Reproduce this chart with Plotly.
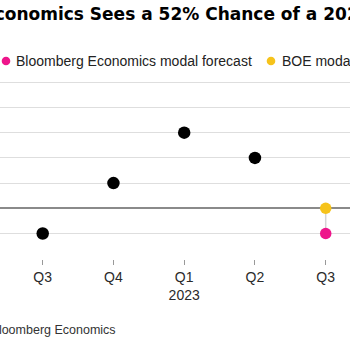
import plotly.graph_objects as go

# ---- data ----
categories = ["2022 Q3", "2022 Q4", "2023 Q1", "2023 Q2", "2023 Q3"]
tick_labels = ["Q3", "Q4", "Q1<br>2023", "Q2", "Q3"]
history_values = [-0.2, 0.2, 0.6, 0.4]          # black dots
bbg_forecast = [-0.2]                            # Bloomberg Economics modal forecast (2023 Q3)
boe_forecast = [0.0]                             # BOE modal forecast (2023 Q3)
grid_values = [-0.2, 0.0, 0.2, 0.4, 0.6, 0.8, 1.0]

title_text = "Bloomberg Economics Sees a 52% Chance of a 2023 Recession"
legend_labels = ["Bloomberg Economics modal forecast", "BOE modal forecast"]
source_text = "Source: Bloomberg Economics"

PINK = "#EE158B"
YELLOW = "#F6C31B"

W, H = 350, 350
T, B = 78, 91
PLOT_H = H - T - B


def px(x):
    return x / W


def py(p):
    return (H - B - p) / PLOT_H


fig = go.Figure()

# connector between the two forecasts
fig.add_trace(go.Scatter(
    x=[categories[-1], categories[-1]], y=[boe_forecast[0], bbg_forecast[0]],
    mode="lines", line=dict(color="#d4d4d4", width=1.5),
    hoverinfo="skip", showlegend=False))

fig.add_trace(go.Scatter(
    x=categories[:len(history_values)], y=history_values, mode="markers",
    marker=dict(color="black", size=12.5), showlegend=False))

fig.add_trace(go.Scatter(
    x=[categories[-1]], y=boe_forecast, mode="markers",
    marker=dict(color=YELLOW, size=11.5), name=legend_labels[1], showlegend=False))

fig.add_trace(go.Scatter(
    x=[categories[-1]], y=bbg_forecast, mode="markers",
    marker=dict(color=PINK, size=11.5), name=legend_labels[0], showlegend=False))

fig.update_xaxes(
    type="category", categoryorder="array", categoryarray=categories,
    range=[-0.6035, 4.3435],
    tickmode="array", tickvals=categories, ticktext=tick_labels,
    ticks="outside", ticklen=5, tickwidth=1, tickcolor="#999999",
    showgrid=False, showline=False, zeroline=False,
    tickfont=dict(family="Liberation Sans, Arial, sans-serif", size=14, color="#2a2a2a"),
)

fig.update_yaxes(
    range=[-0.4024, 1.0341],
    tickmode="array", tickvals=grid_values, showticklabels=False,
    showgrid=True, gridcolor="#dedede", gridwidth=1.4,
    zeroline=True, zerolinecolor="#8a8a8a", zerolinewidth=1.5,
    showline=False, ticks="",
)

annotations = [
    dict(text="<b>" + title_text + "</b>", x=px(-129), y=py(13.5), xanchor="left", yanchor="middle",
         font=dict(family="DejaVu Sans", size=17, color="black"), showarrow=False),
    dict(text=legend_labels[0], x=px(14), y=py(61), xanchor="left", yanchor="middle",
         font=dict(family="Liberation Sans, Arial, sans-serif", size=14, color="#222222"),
         showarrow=False),
    dict(text=legend_labels[1], x=px(279.5), y=py(61), xanchor="left", yanchor="middle",
         font=dict(family="Liberation Sans, Arial, sans-serif", size=14, color="#222222"),
         showarrow=False),
    dict(text=source_text, x=px(118), y=py(330), xanchor="right", yanchor="middle",
         font=dict(family="Liberation Sans, Arial, sans-serif", size=12.5, color="#333333"),
         showarrow=False),
]
for a in annotations:
    a["xref"] = "paper"
    a["yref"] = "paper"

shapes = [
    dict(type="circle", xref="paper", yref="paper", xsizemode="pixel", ysizemode="pixel",
         xanchor=px(6), yanchor=py(61), x0=-4.3, x1=4.3, y0=-4.3, y1=4.3,
         fillcolor=PINK, line=dict(width=0)),
    dict(type="circle", xref="paper", yref="paper", xsizemode="pixel", ysizemode="pixel",
         xanchor=px(271), yanchor=py(61), x0=-4.3, x1=4.3, y0=-4.3, y1=4.3,
         fillcolor=YELLOW, line=dict(width=0)),
]

fig.update_layout(
    width=W, height=H,
    margin=dict(l=0, r=0, t=T, b=B, pad=0),
    paper_bgcolor="white", plot_bgcolor="white",
    annotations=annotations, shapes=shapes,
    showlegend=False,
    font=dict(family="Liberation Sans, Arial, sans-serif"),
)

fig.write_html("out.html", config={"displayModeBar": False})
